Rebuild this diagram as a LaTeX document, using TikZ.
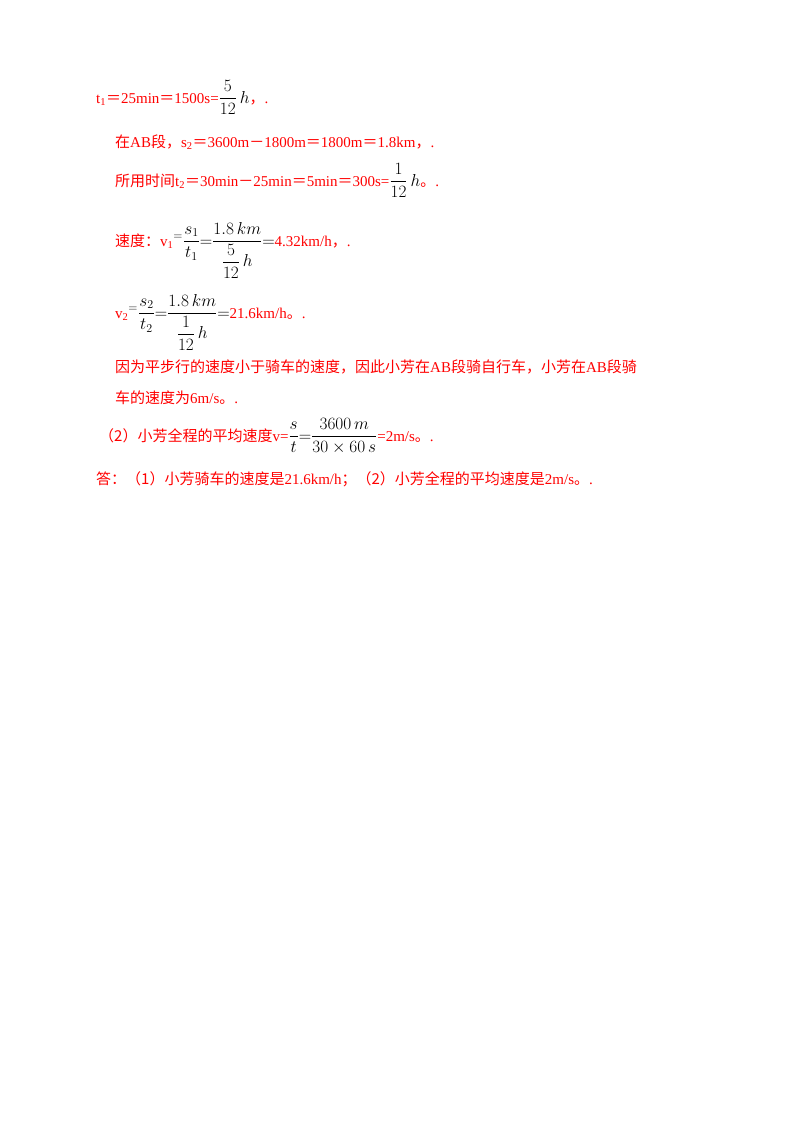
\documentclass[tikz,border=0pt]{standalone}
\usepackage{amsmath}
\usepackage{fontspec}
\setmainfont{Liberation Serif}
\newfontfamily\cjk{Noto Sans CJK SC}
\newcommand{\zh}[1]{{\cjk #1}}
\newcommand{\blk}[1]{\textcolor{black}{\fontsize{17}{20}\selectfont#1}}
\usetikzlibrary{positioning}
\tikzset{
    line/.style={
        anchor=base west,
        inner sep=0pt,
        text=red,
        font=\fontsize{15}{18}\selectfont,
    },
}
\begin{document}
\begin{tikzpicture}[x=1pt,y=-1pt]
\useasboundingbox (0,0) rectangle (800,1132);
\node[line] (tone) at (96,103) {t\textsubscript{1}\zh{＝}25min\zh{＝}1500s=\blk{$\dfrac{5}{12}\,h$}\zh{，}.};
\node[line] (stwo) at (115,147) {\zh{在}AB\zh{段，}s\textsubscript{2}\zh{＝}3600m\zh{－}1800m\zh{＝}1800m\zh{＝}1.8km\zh{，}.};
\node[line] (ttwo) at (115,186) {\zh{所用时间}t\textsubscript{2}\zh{＝}30min\zh{－}25min\zh{＝}5min\zh{＝}300s=\blk{$\dfrac{1}{12}\,h$}\zh{。}.};
\node[line] (vone) at (115,246) {\zh{速度：}v\textsubscript{1}\blk{$^{=}\dfrac{s_1}{t_1}{=}\dfrac{1.8\,km}{\dfrac{5}{12}\,h}{=}$}4.32km/h\zh{，}.};
\node[line] (vtwo) at (115,318) {v\textsubscript{2}\blk{$^{=}\dfrac{s_2}{t_2}{=}\dfrac{1.8\,km}{\dfrac{1}{12}\,h}{=}$}21.6km/h\zh{。}.};
\node[line] (why) at (115,372) {\zh{因为平步行的速度小于骑车的速度，因此小芳在}AB\zh{段骑自行车，小芳在}AB\zh{段骑}};
\node[line] (whyb) at (115,403) {\zh{车的速度为}6m/s\zh{。}.};
\node[line] (avg) at (99,441) {\zh{（2）小芳全程的平均速度}v=\blk{$\dfrac{s}{t}{=}\dfrac{3600\,m}{30\times 60\,s}$}=2m/s\zh{。}.};
\node[line] (ans) at (96,484) {\zh{答：（1）小芳骑车的速度是}21.6km/h\zh{；（2）小芳全程的平均速度是}2m/s\zh{。}.};
\end{tikzpicture}
\end{document}
